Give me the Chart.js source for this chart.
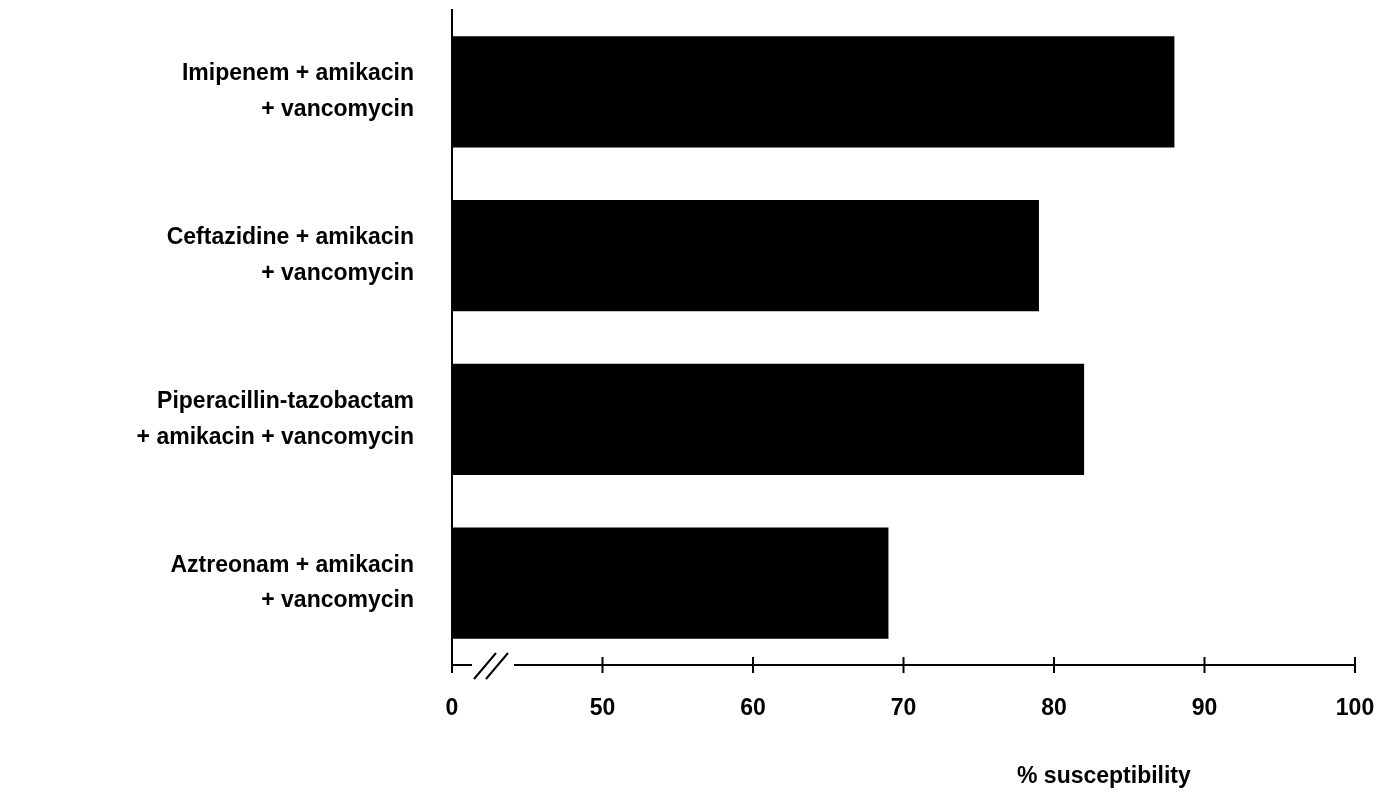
<!DOCTYPE html>
<html><head><meta charset="utf-8">
<script src="https://cdn.jsdelivr.net/npm/chart.js@4"></script>
<style>html,body{margin:0;background:#fff}#wrap{width:1384px;height:802px}</style>
</head><body><div id="wrap"><canvas id="c"></canvas></div>
<script>
const categories = [
  ['Imipenem + amikacin', '+ vancomycin'],
  ['Ceftazidine + amikacin', '+ vancomycin'],
  ['Piperacillin-tazobactam', '+ amikacin + vancomycin'],
  ['Aztreonam + amikacin', '+ vancomycin']
];
const susceptibility = [88, 79, 82, 69];
const tickValues = [40, 50, 60, 70, 80, 90, 100];
const tickLabels = ['0', '50', '60', '70', '80', '90', '100'];

const FONT = 'bold 23px "Liberation Sans", Arial, sans-serif';

const brokenAxis = {
  id: 'brokenAxis',
  afterDraw(chart) {
    const c = chart.ctx, x = chart.scales.x, a = chart.chartArea;
    const y = a.bottom;
    c.save();
    c.strokeStyle = '#000'; c.lineWidth = 2;
    c.beginPath();
    c.moveTo(a.left, y); c.lineTo(a.left + 20, y);
    c.moveTo(a.left + 62, y); c.lineTo(a.right, y);
    tickValues.forEach(v => {
      const px = x.getPixelForValue(v);
      c.moveTo(px, y - 8); c.lineTo(px, y + 8);
    });
    c.moveTo(a.left + 22, y + 14); c.lineTo(a.left + 44, y - 12);
    c.moveTo(a.left + 34, y + 14); c.lineTo(a.left + 56, y - 12);
    c.stroke();
    c.fillStyle = '#000'; c.font = FONT; c.textAlign = 'left';
    c.fillText('% susceptibility', 1017, 783);
    c.restore();
  }
};

new Chart(document.getElementById('c'), {
  type: 'bar',
  data: {
    labels: categories,
    datasets: [{ data: susceptibility, backgroundColor: '#000', borderWidth: 0,
      categoryPercentage: 0.68, barPercentage: 1 }]
  },
  options: {
    indexAxis: 'y', responsive: true, maintainAspectRatio: false, animation: false,
    layout: { padding: { top: 10, right: 29, left: 0, bottom: 0 } },
    plugins: { legend: { display: false }, tooltip: { enabled: false } },
    scales: {
      x: {
        min: 40, max: 100,
        afterBuildTicks: s => { s.ticks = tickValues.map(v => ({ value: v })); },
        afterFit: s => { s.height = 137; s.paddingLeft = 0; s.paddingRight = 0; },
        grid: { display: false }, border: { display: false },
        ticks: {
          color: '#000', font: { size: 23, weight: 'bold', family: '"Liberation Sans", Arial' },
          padding: 22, maxRotation: 0,
          callback: (v) => tickLabels[tickValues.indexOf(v)]
        }
      },
      y: {
        afterFit: s => { s.width = 452; s.paddingTop = 0; s.paddingBottom = 0; },
        grid: { display: false },
        border: { display: true, color: '#000', width: 2 },
        ticks: { color: '#000', padding: 30, font: { size: 23, weight: 'bold', family: '"Liberation Sans", Arial', lineHeight: 1.55 } }
      }
    }
  },
  plugins: [brokenAxis]
});
</script></body></html>
